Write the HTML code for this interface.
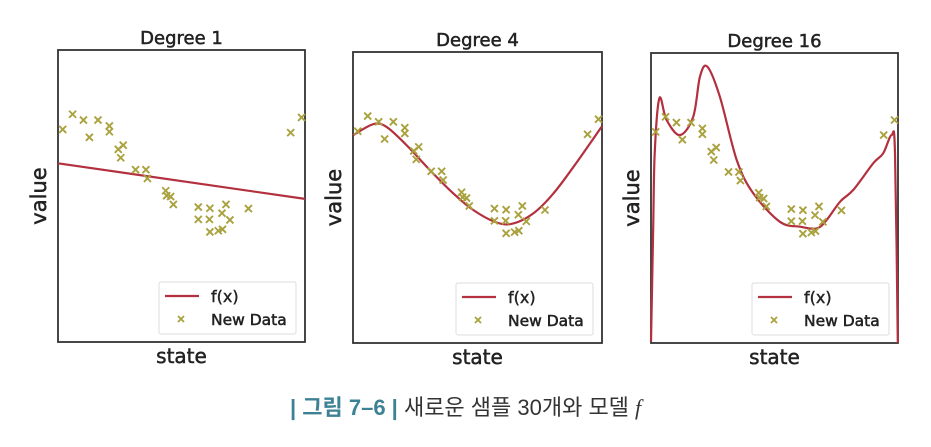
<!DOCTYPE html>
<html><head><meta charset="utf-8"><style>
body{margin:0;background:#fff;width:931px;height:447px;overflow:hidden}
svg{display:block}
</style></head><body>
<svg id="chart" width="931" height="447" viewBox="0 0 931 447" font-family="'DejaVu Sans','Liberation Sans',sans-serif"></svg>
<script>
const dataX=[0.019,0.059,0.103,0.127,0.162,0.208,0.208,0.244,0.264,0.254,0.314,0.356,0.362,0.436,0.440,0.456,0.467,0.568,0.615,0.568,0.613,0.615,0.649,0.666,0.664,0.680,0.696,0.771,0.942,0.986];
const dataY=[7.28,7.80,7.60,7.01,7.60,7.40,7.20,6.60,6.74,6.31,5.90,5.90,5.60,5.18,5.01,4.98,4.71,4.62,4.58,4.20,4.20,3.77,3.81,3.86,4.41,4.71,4.18,4.57,7.17,7.69];
const fit1X=[0,1];
const fit1Y=[6.12,4.90];
const fit4X=[0,0.081,0.134,0.215,0.309,0.403,0.483,0.577,0.644,0.725,0.805,0.886,1];
const fit4Y=[7.14,7.52,7.43,6.80,5.94,5.14,4.57,4.14,4.11,4.46,5.14,6.06,7.45];
const fit16X=[0,0.009,0.015,0.034,0.063,0.117,0.171,0.198,0.228,0.279,0.347,0.414,0.522,0.603,0.671,0.711,0.765,0.819,0.9,0.94,0.974,0.988,0.999];
const fit16Y=[0.05,4.0,6.54,8.44,7.69,7.17,7.80,9.18,9.53,8.49,6.31,5.16,4.18,4.01,3.95,4.24,4.87,5.28,6.20,6.54,7.17,6.54,0.0];
const titles=["Degree 1","Degree 4","Degree 16"];
const panels=[{x:58,y:50,w:247,h:292},{x:353,y:52,w:249,h:291},{x:651,y:53,w:247,h:290}];
const fitsX=[fit1X,fit4X,fit16X], fitsY=[fit1Y,fit4Y,fit16Y];
const NS="http://www.w3.org/2000/svg";
const svg=document.getElementById('chart');
function mk(t,a,p){const e=document.createElementNS(NS,t);for(const k in a)e.setAttribute(k,a[k]);(p||svg).appendChild(e);return e;}
function smooth(pts){
  let d='M'+pts[0][0].toFixed(1)+','+pts[0][1].toFixed(1);
  if(pts.length<3){return d+'L'+pts[1][0].toFixed(1)+','+pts[1][1].toFixed(1);}
  for(let i=0;i<pts.length-1;i++){
    const p0=pts[Math.max(0,i-1)],p1=pts[i],p2=pts[i+1],p3=pts[Math.min(pts.length-1,i+2)];
    const t=0.5/3;
    const c1=[p1[0]+(p2[0]-p0[0])*t,p1[1]+(p2[1]-p0[1])*t];
    const c2=[p2[0]-(p3[0]-p1[0])*t,p2[1]-(p3[1]-p1[1])*t];
    d+=`C${c1[0].toFixed(1)},${c1[1].toFixed(1)} ${c2[0].toFixed(1)},${c2[1].toFixed(1)} ${p2[0].toFixed(1)},${p2[1].toFixed(1)}`;
  }
  return d;
}
panels.forEach((P,i)=>{
  const g=mk('g',{});
  
  
  const sx=v=>P.x+v*P.w, sy=v=>P.y+(1-v/10)*P.h;
  const fr=mk('rect',{x:P.x,y:P.y,width:P.w,height:P.h,fill:'none',stroke:'#333','stroke-width':1.8},g);
  
  
  const t=mk('text',{x:P.x+P.w/2,y:P.y-6,'text-anchor':'middle','font-size':18,fill:'#222',stroke:'#222','stroke-width':0.5},g);t.textContent=titles[i];
  
  
  const xl=mk('text',{x:P.x+P.w/2,y:P.y+P.h+21,'text-anchor':'middle','font-size':20,fill:'#222',stroke:'#222','stroke-width':0.5},g);xl.textContent='state';
  
  
  const cy=P.y+P.h/2, cx=P.x-12;
  const yl=mk('text',{x:cx,y:cy,'text-anchor':'middle','font-size':21,fill:'#222',stroke:'#222','stroke-width':0.5,transform:`rotate(-90 ${cx} ${cy})`},g);yl.textContent='value';
  
  
  const fx=fitsX[i], fy=fitsY[i];
  const pts=fx.map((x,j)=>[sx(x),sy(fy[j])]);
  const ln=mk('path',{d:smooth(pts),fill:'none',stroke:'#b3303f','stroke-width':2.2,'stroke-linejoin':'round'},g);
  
  
  dataX.forEach((x,j)=>{
    const X=sx(x),Y=sy(dataY[j]),s=3.5;
    const m=mk('path',{d:`M${X-s},${Y-s}L${X+s},${Y+s}M${X-s},${Y+s}L${X+s},${Y-s}`,stroke:'#a9a23e','stroke-width':1.9},g);
    
    
  });
  const lx=P.x+P.w-146, ly=P.y+P.h-60;
  const lg=mk('g',{},g);
  
  
  mk('rect',{x:lx,y:ly,width:137,height:52,fill:'#fff',stroke:'#ddd','stroke-width':1,rx:2},lg);
  mk('line',{x1:lx+6,y1:ly+14,x2:lx+40,y2:ly+14,stroke:'#b3303f','stroke-width':2.2},lg);
  const t1=mk('text',{x:lx+52,y:ly+20,'font-size':16,fill:'#222',stroke:'#222','stroke-width':0.4},lg);t1.textContent='f(x)';
  
  
  const mx=lx+22,my=ly+37;
  mk('path',{d:`M${mx-3},${my-3}L${mx+3},${my+3}M${mx-3},${my+3}L${mx+3},${my-3}`,stroke:'#a9a23e','stroke-width':1.8},lg);
  const t2=mk('text',{x:lx+52,y:ly+43,'font-size':15.5,fill:'#222',stroke:'#222','stroke-width':0.5},lg);t2.textContent='New Data';
  
  
});
const cap=mk('text',{x:290,y:415,'font-size':22,fill:'#333','font-family':"'Liberation Sans','Noto Sans CJK KR',sans-serif"});


const c1=mk('tspan',{fill:'#3d8294','font-weight':'bold'},cap);c1.textContent='| 그림 7–6 | ';
const c2=mk('tspan',{},cap);c2.textContent='새로운 샘플 30개와 모델 ';
const c3=mk('tspan',{'font-style':'italic','font-family':"'Liberation Serif',serif"},cap);c3.textContent='f';
</script>
</body></html>
